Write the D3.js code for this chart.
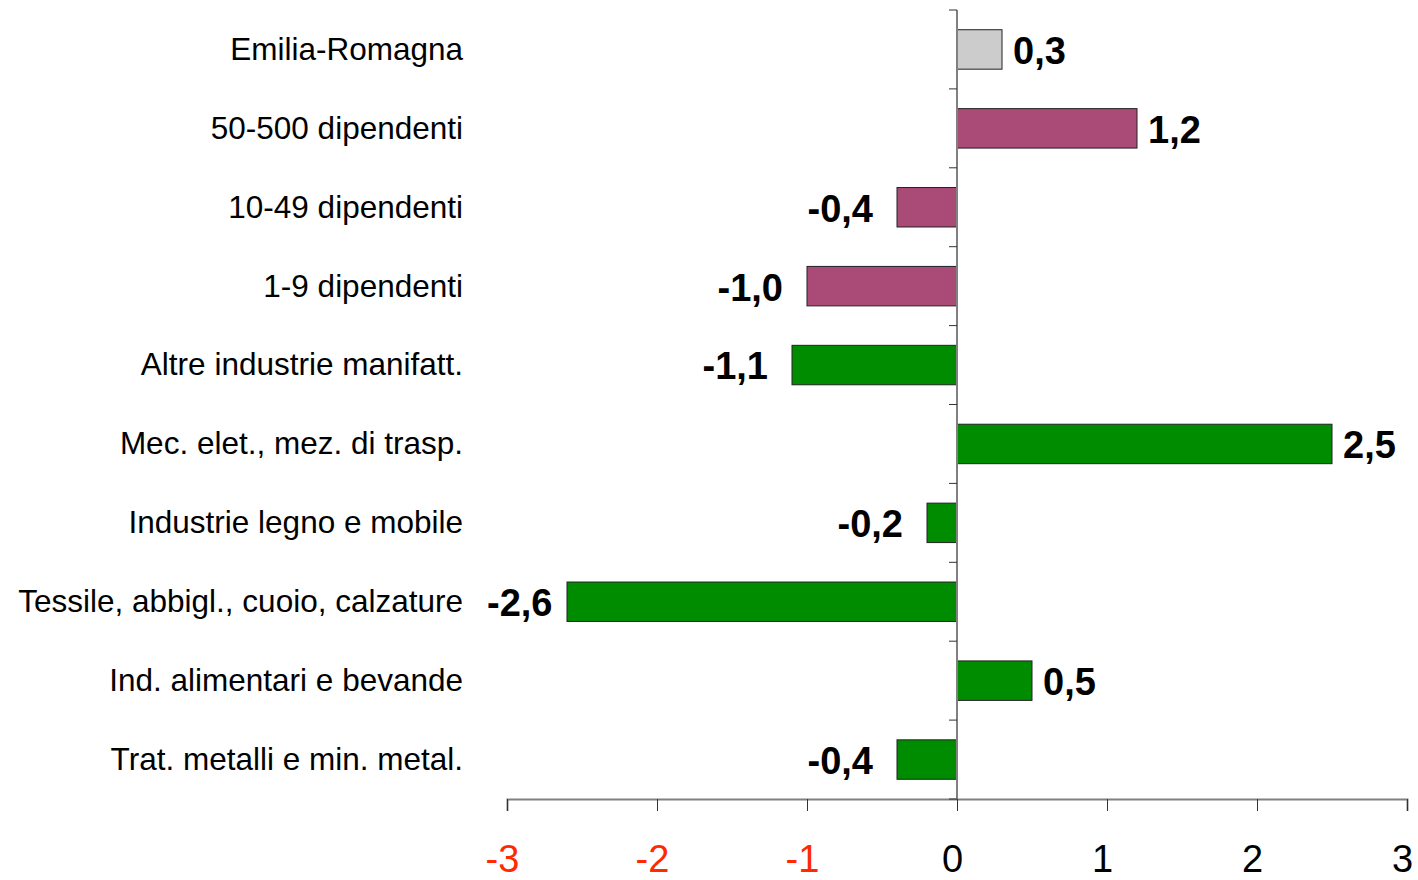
<!DOCTYPE html>
<html lang="it">
<head>
<meta charset="UTF-8">
<script src="https://d3js.org/d3.v7.min.js"></script>
<style>
  body { margin: 0; background: #fff; }
  svg { display: block; font-family: "Liberation Sans", Arial, sans-serif; }
</style>
</head>
<body>
<svg id="chart" width="1418" height="880"></svg>
<script>
// dati
const categories = [
  "Emilia-Romagna",
  "50-500 dipendenti",
  "10-49 dipendenti",
  "1-9 dipendenti",
  "Altre industrie manifatt.",
  "Mec. elet., mez. di trasp.",
  "Industrie legno e mobile",
  "Tessile, abbigl., cuoio, calzature",
  "Ind. alimentari e bevande",
  "Trat. metalli e min. metal."
];
const values = [0.3, 1.2, -0.4, -1.0, -1.1, 2.5, -0.2, -2.6, 0.5, -0.4];
const groups = ["totale", "classe", "classe", "classe", "settore", "settore", "settore", "settore", "settore", "settore"];
const xTicks = [-3, -2, -1, 0, 1, 2, 3];

const colors = { totale: "#cccccc", classe: "#aa4a77", settore: "#008c00" };

const svg = d3.select("#chart");
const margin = { top: 10, left: 507, right: 11, bottom: 81 };
const width = 1418 - margin.left - margin.right;
const height = 880 - margin.top - margin.bottom;

const g = svg.append("g").attr("transform", `translate(${margin.left},${margin.top})`);

const x = d3.scaleLinear().domain([-3, 3]).range([0, width]);
const y = d3.scaleBand().domain(categories).range([0, height]).paddingInner(0.5).paddingOuter(0.25);

const rows = categories.map((c, i) => ({ cat: c, v: values[i], grp: groups[i] }));

// barre
g.selectAll("rect.bar")
  .data(rows)
  .join("rect")
  .attr("class", "bar")
  .attr("x", d => x(Math.min(0, d.v)))
  .attr("y", d => y(d.cat))
  .attr("width", d => Math.abs(x(d.v) - x(0)))
  .attr("height", y.bandwidth())
  .attr("fill", d => colors[d.grp])
  .attr("stroke", "#222")
  .attr("stroke-width", 1);

// asse x
const xAxis = g.append("g")
  .attr("transform", `translate(0,${height})`)
  .call(d3.axisBottom(x).tickValues(xTicks).tickSize(12).tickFormat(d3.format("d")));
xAxis.select(".domain").attr("stroke", "#808080").attr("stroke-width", 2);
xAxis.selectAll(".tick line").attr("stroke", "#333");
xAxis.selectAll(".tick text")
  .attr("font-size", 38)
  .attr("font-family", "Liberation Sans, Arial, sans-serif")
  .attr("dy", 0)
  .attr("y", 73)
  .attr("x", -5)
  .attr("fill", d => d < 0 ? "#ff2a00" : "#000")
  .text(d => d < 0 ? "-" + Math.abs(d) : d);

// asse verticale sullo zero
const bounds = d3.range(categories.length + 1).map(i => i * height / categories.length);
g.append("line")
  .attr("x1", x(0)).attr("x2", x(0))
  .attr("y1", 0).attr("y2", height)
  .attr("stroke", "#808080").attr("stroke-width", 2);
g.selectAll("line.ytick")
  .data(bounds)
  .join("line")
  .attr("class", "ytick")
  .attr("x1", x(0) - 8).attr("x2", x(0))
  .attr("y1", d => d).attr("y2", d => d)
  .attr("stroke", "#333");

// etichette categorie
g.selectAll("text.cat")
  .data(rows)
  .join("text")
  .attr("class", "cat")
  .attr("x", -44)
  .attr("y", d => y(d.cat) + y.bandwidth() / 2)
  .attr("dy", "0.33em")
  .attr("text-anchor", "end")
  .attr("font-size", 31.5)
  .attr("fill", "#000")
  .text(d => d.cat);

// etichette valori
const fmt = v => d3.format(".1f")(v).replace(".", ",").replace("−", "-");
g.selectAll("text.val")
  .data(rows)
  .join("text")
  .attr("class", "val")
  .attr("y", d => y(d.cat) + y.bandwidth() / 2)
  .attr("dy", "0.38em")
  .attr("font-size", 38)
  .attr("font-weight", "bold")
  .attr("fill", "#000")
  .attr("text-anchor", d => d.v < 0 ? "end" : "start")
  .text(d => fmt(d.v))
  .attr("x", function (d) {
    if (d.v >= 0) return x(d.v) + 11;
    const w = this.getComputedTextLength();
    return Math.max(x(d.v) - 24, -20 + w);
  });
</script>
</body>
</html>
